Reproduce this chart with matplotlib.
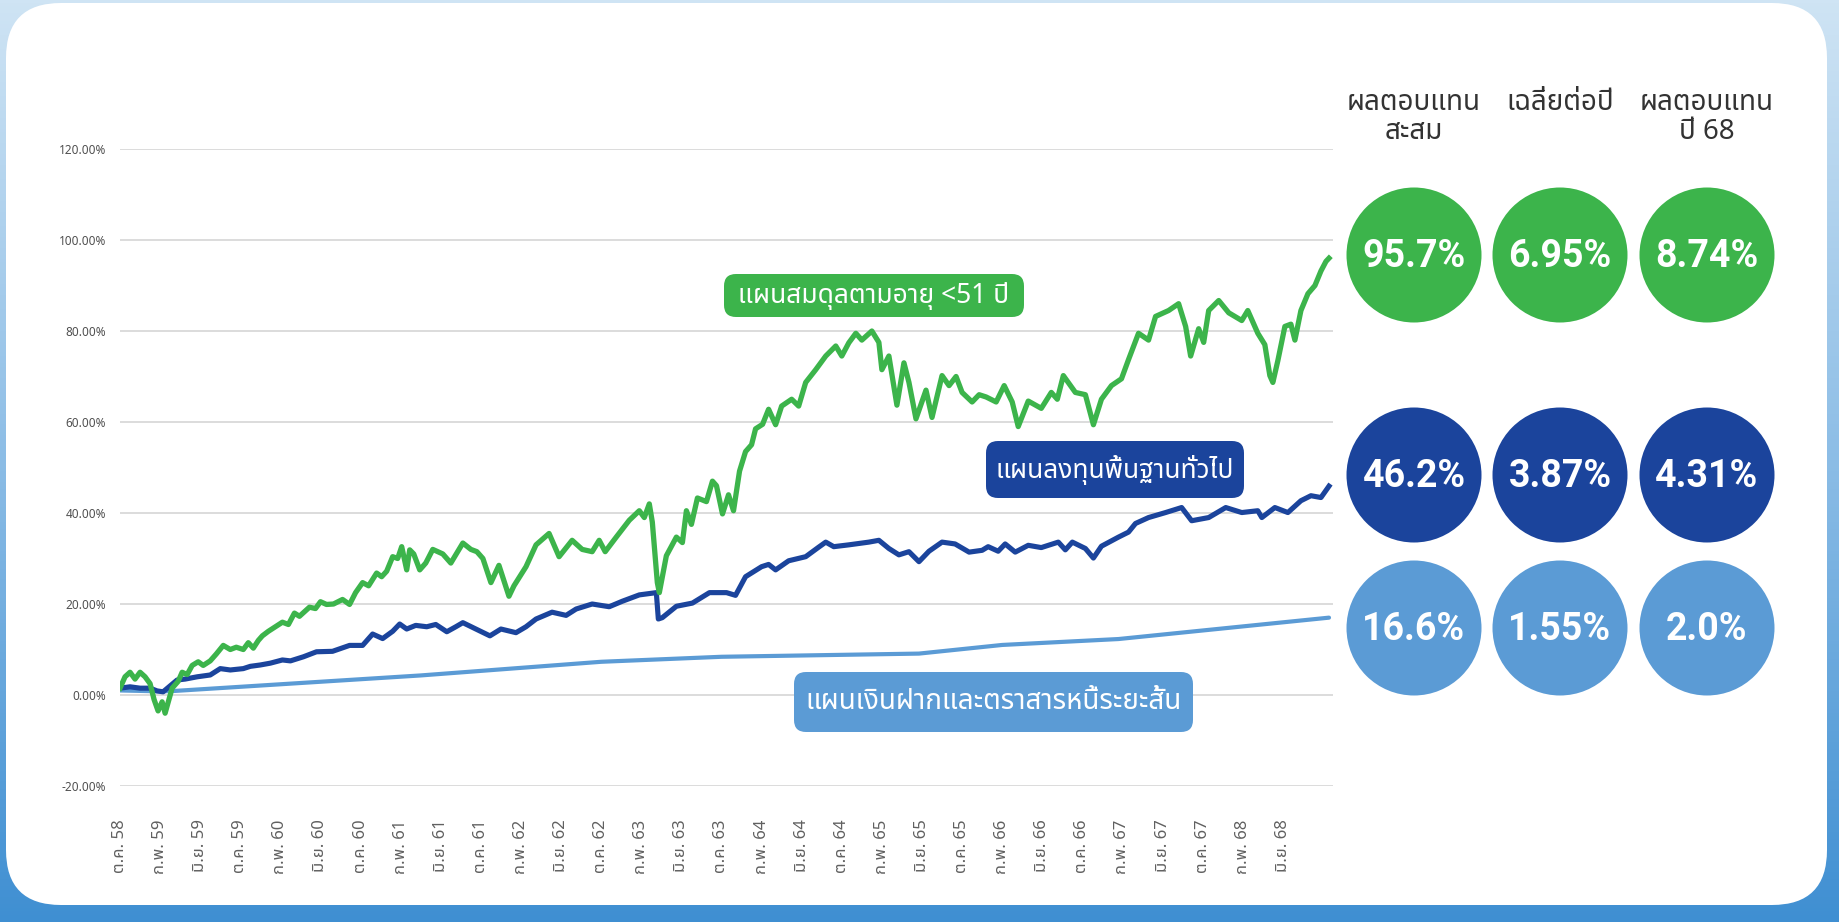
"""
Cumulative return chart of three provident-fund plans (Thai labels).
"""

import numpy as np
import matplotlib
matplotlib.use("Agg")
import matplotlib.pyplot as plt
from matplotlib import font_manager
from matplotlib.ft2font import FT2Font
from matplotlib.patches import Circle, FancyBboxPatch

W, H = 1839, 922

# month index counted from ต.ค. 58 (Oct 2015), values in % cumulative return
balanced_m = [0, 0.5, 1, 1.5, 2, 2.5, 3, 3.4, 3.8, 4.2,
              4.5, 5.2, 5.8, 6.2, 6.7, 7.2, 7.8, 8.3, 9, 9.6,
              10.3, 11, 11.6, 12.3, 12.8, 13.3, 13.8, 14.2, 14.8, 15.5,
              16.2, 16.8, 17.4, 17.9, 18.5, 18.9, 19.5, 20, 20.6, 21.3,
              22.2, 22.9, 23.5, 24.2, 24.8, 25.6, 26.1, 26.6, 27.2, 27.7,
              28.1, 28.6, 28.9, 29.3, 29.9, 30.5, 31.2, 32.2, 33, 34.2,
              35, 35.6, 36.2, 37, 37.8, 38.8, 39.3, 40.5, 41.5, 42.8,
              43.8, 45.1, 46.1, 47.1, 47.8, 48.4, 49.5, 50.8, 51.8, 52.3,
              52.8, 53.1, 53.6, 53.8, 54.5, 55.5, 56.1, 56.5, 57, 57.6,
              58.5, 59.1, 59.5, 60.1, 60.7, 61.2, 61.8, 62.4, 63, 63.4,
              64.1, 64.7, 65.4, 66, 67, 67.7, 68.4, 69.4, 70.4, 71.4,
              72, 72.7, 73.4, 74, 75, 75.7, 76, 76.7, 77.5, 78.2,
              78.7, 79.4, 80.4, 81, 82, 82.7, 83.4, 84, 85, 85.7,
              86.4, 87.4, 88.2, 89, 89.6, 90.6, 91.9, 92.9, 93.5, 94.1,
              95.3, 96.3, 97.1, 97.9, 98.9, 99.9, 100.6, 101.6, 102.6, 103.3,
              104.6, 105.6, 106.3, 106.8, 107.6, 108.1, 108.6, 109.6, 110.6, 111.9,
              112.5, 113.5, 114.2, 114.7, 115, 115.5, 116.2, 116.8, 117.2, 117.8,
              118.5, 119.2, 119.8, 120.3, 120.6]
balanced_v = [1.5, 4, 5, 3.5, 5, 4, 2.5, -1, -3.5, -1.5,
              -4, 1.5, 3, 5, 4.5, 6.5, 7.3, 6.5, 7.5, 9,
              10.9, 10, 10.5, 10, 11.5, 10.3, 12, 13, 14, 15,
              16, 15.5, 18, 17.3, 18.5, 19.3, 19, 20.5, 19.9, 20,
              21, 19.9, 22.5, 24.7, 24, 26.8, 26, 27.2, 30.4, 30,
              32.6, 27.5, 31.9, 31, 27.5, 29, 32, 31, 29, 33.4,
              32, 31.5, 30, 24.7, 28.5, 21.7, 24, 28.2, 33, 35.5,
              30.4, 34, 32, 31.5, 34, 31.5, 34.7, 38.4, 40.5, 39,
              42, 38, 24.7, 22.5, 30.6, 34.7, 33.5, 40.5, 37.5, 43.3,
              42.5, 47, 46, 39.8, 44, 40.5, 49.2, 53.5, 55, 58.5,
              59.5, 62.8, 59.4, 63.5, 65, 63.5, 68.7, 71.5, 74.5, 76.7,
              74.5, 77.4, 79.5, 78, 80, 77.5, 71.5, 74.5, 63.7, 73,
              68.7, 60.7, 67, 61, 70.2, 68, 70, 66.5, 64.4, 66,
              65.5, 64.4, 68, 64.4, 59, 64.6, 63, 66.5, 65, 70.2,
              66.5, 66, 59.4, 65, 68, 69.5, 73.7, 79.5, 78, 83.2,
              84.5, 86, 81, 74.5, 80.5, 77.5, 84.5, 86.7, 84, 82.3,
              84.5, 79.5, 77, 70.2, 68.7, 73.5, 81, 81.5, 78, 84.5,
              88.2, 90, 93.2, 95.3, 96]

general_m = [0, 1, 2, 3, 3.7, 4.3, 5, 5.7, 6.5, 7.7,
             9, 10, 11, 12.3, 13, 14, 15, 16.2, 17, 18.3,
             19.6, 21.2, 22.9, 24.2, 25.2, 26.2, 27.2, 27.9, 28.6, 29.5,
             30.6, 31.5, 32.6, 33.5, 34.2, 35.5, 36.9, 38, 39.5, 40.5,
             41.5, 43.1, 44.5, 45.5, 47.1, 48.8, 50.1, 51.8, 53.5, 53.7,
             54.1, 55.5, 57.1, 58.8, 60.5, 61.4, 62.4, 64, 64.7, 65.4,
             66.7, 68.4, 69.7, 70.4, 71.2, 72.7, 74.7, 75.7, 76.7, 77.7,
             78.7, 79.7, 80.7, 82, 83.3, 84.7, 86, 86.6, 87.6, 88.3,
             89.3, 90.6, 91.9, 93.6, 94.3, 95, 96.3, 97.1, 97.9, 99.6,
             100.6, 101.3, 102.6, 104.3, 105.9, 106.9, 108.6, 110.3, 111.9, 113.5,
             113.9, 115.2, 116.5, 117.8, 118.8, 119.8, 120.6]
general_v = [1.5, 1.8, 1.5, 1.5, 0.9, 0.7, 2, 3.3, 3.5, 4,
             4.4, 5.8, 5.5, 5.8, 6.3, 6.6, 7, 7.7, 7.5, 8.4,
             9.5, 9.6, 10.9, 10.9, 13.4, 12.4, 14, 15.6, 14.5, 15.3,
             15, 15.5, 13.9, 15, 15.9, 14.5, 13, 14.5, 13.7, 15,
             16.7, 18.2, 17.5, 18.9, 20, 19.4, 20.6, 22, 22.5, 16.7,
             17, 19.5, 20.2, 22.5, 22.5, 21.9, 26, 28.2, 28.7, 27.5,
             29.5, 30.4, 32.5, 33.6, 32.6, 33, 33.6, 34, 32.2, 30.8,
             31.5, 29.3, 31.6, 33.6, 33.2, 31.4, 31.8, 32.6, 31.6, 33.2,
             31.4, 32.9, 32.4, 33.6, 31.9, 33.6, 32.2, 30.1, 32.7, 34.7,
             35.8, 37.7, 39, 40.1, 41.2, 38.3, 39, 41.2, 40.1, 40.5,
             39, 41.2, 40.1, 42.7, 43.8, 43.4, 45.9]

deposit_m = [0, 4, 5.5, 30, 48, 60, 79.7, 88, 99.6, 120.6]
deposit_v = [1.0, 0.8, 0.9, 4.3, 7.3, 8.4, 9.1, 11.0, 12.3, 17.0]

tick_labels = ["ต.ค. 58", "ก.พ. 59", "มิ.ย. 59", "ต.ค. 59", "ก.พ. 60", "มิ.ย. 60",
               "ต.ค. 60", "ก.พ. 61", "มิ.ย. 61", "ต.ค. 61", "ก.พ. 62", "มิ.ย. 62",
               "ต.ค. 62", "ก.พ. 63", "มิ.ย. 63", "ต.ค. 63", "ก.พ. 64", "มิ.ย. 64",
               "ต.ค. 64", "ก.พ. 65", "มิ.ย. 65", "ต.ค. 65", "ก.พ. 66", "มิ.ย. 66",
               "ต.ค. 66", "ก.พ. 67", "มิ.ย. 67", "ต.ค. 67", "ก.พ. 68", "มิ.ย. 68"]

plan_names = ["แผนสมดุลตามอายุ <51 ปี", "แผนลงทุนพื้นฐานทั่วไป",
              "แผนเงินฝากและตราสารหนี้ระยะสั้น"]
header_labels = ["ผลตอบแทน\nสะสม", "เฉลี่ยต่อปี", "ผลตอบแทน\nปี 68"]
stats = [["95.7%", "6.95%", "8.74%"],
         ["46.2%", "3.87%", "4.31%"],
         ["16.6%", "1.55%", "2.0%"]]

GREEN = "#3cb44b"
NAVY = "#1b449c"
SKY = "#5b9bd5"
colors = [GREEN, NAVY, SKY]


def find_thai_font():
    """Return the name of an installed family that has Thai glyphs."""
    names = []
    for f in font_manager.fontManager.ttflist:
        try:
            cmap = FT2Font(f.fname).get_charmap()
        except Exception:
            continue
        if 0x0E1C in cmap and 0x0E1B in cmap:
            names.append(f.name)
    for pref in ("Noto Sans Thai", "Noto Sans Thai UI", "Sarabun", "Kanit", "Prompt"):
        if pref in names:
            return pref
    return names[0] if names else "DejaVu Sans"


thai = find_thai_font()
FAM = [thai, "DejaVu Sans"]
plt.rcParams["font.family"] = FAM

fig = plt.figure(figsize=(W / 100, H / 100), dpi=100)

# background frame + white card
bg = fig.add_axes([0, 0, 1, 1], zorder=0)
bg.set_xlim(0, W)
bg.set_ylim(H, 0)
bg.axis("off")
grad = np.linspace(0, 1, 256).reshape(-1, 1)
cmap_bg = matplotlib.colors.LinearSegmentedColormap.from_list(
    "bg", ["#cfe4f4", "#8cbde6", "#3f8fd2"])
bg.imshow(grad, cmap=cmap_bg, aspect="auto", extent=[0, W, H, 0])
bg.add_patch(FancyBboxPatch((6, 3), 1821, 902, boxstyle="round,pad=0,rounding_size=55",
                            fc="white", ec="none"))

# main chart
ax = fig.add_axes([120 / W, (H - 786) / H, (1333 - 120) / W, (786 - 149) / H], zorder=2)
ax.patch.set_alpha(0)
ax.plot(deposit_m, deposit_v, color=SKY, lw=3.0, solid_capstyle="round")
ax.plot(general_m, general_v, color=NAVY, lw=3.7, solid_joinstyle="round")
ax.plot(balanced_m, balanced_v, color=GREEN, lw=3.8, solid_joinstyle="round")
ax.set_xlim(0, 121)
ax.set_ylim(-20, 120)
ax.set_yticks(np.arange(-20, 121, 20))
ax.set_yticklabels([f"{t:.2f}%" for t in np.arange(-20, 121, 20)])
ax.set_xticks(np.arange(0, 4 * len(tick_labels), 4))
ax.set_xticklabels(tick_labels, rotation=90)
ax.tick_params(axis="y", length=0, pad=10, labelsize=8.5, labelcolor="#505050")
ax.tick_params(axis="x", length=0, pad=24, labelsize=12, labelcolor="#606060")
ax.grid(axis="y", color="#d9d9d9", lw=1.3)
ax.set_axisbelow(True)
for s in ax.spines.values():
    s.set_visible(False)

# overlay in pixel coordinates: labels, headers and stat circles
fg = fig.add_axes([0, 0, 1, 1], zorder=3)
fg.set_xlim(0, W)
fg.set_ylim(H, 0)
fg.axis("off")
fg.patch.set_alpha(0)

label_boxes = [(724, 274, 300, 43), (986, 441, 258, 57), (794, 672, 399, 60)]
label_sizes = [19, 19, 20]
for (x0, y0, bw, bh), name, c, fs in zip(label_boxes, plan_names, colors, label_sizes):
    fg.add_patch(FancyBboxPatch((x0, y0), bw, bh, boxstyle="round,pad=0,rounding_size=12",
                                fc=c, ec="none"))
    fg.text(x0 + bw / 2, y0 + bh / 2, name, color="white", fontsize=fs,
            ha="center", va="center")

col_x = [1414, 1560, 1707]
row_y = [255, 475, 628]
for cx, head in zip(col_x, header_labels):
    fg.text(cx, 103, head.split("\n")[0], ha="center", va="center", fontsize=20,
            color="#333333")
    if "\n" in head:
        fg.text(cx, 132, head.split("\n")[1], ha="center", va="center", fontsize=20,
                color="#333333")

for r, cy in enumerate(row_y):
    for c, cx in enumerate(col_x):
        fg.add_patch(Circle((cx, cy), 67.5, fc=colors[r], ec="none"))
        fg.text(cx, cy + 1, stats[r][c], ha="center", va="center", color="white",
                fontsize=27, fontweight="bold", family=["Roboto", "DejaVu Sans"])

fig.savefig("out.png", dpi=100)
